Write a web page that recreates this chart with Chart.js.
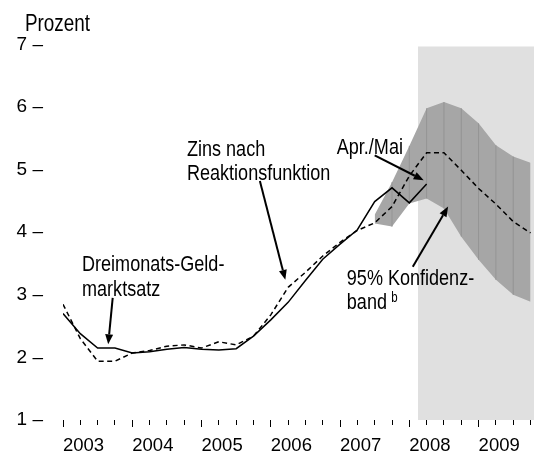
<!DOCTYPE html>
<html>
<head>
<meta charset="utf-8">
<script src="https://cdn.jsdelivr.net/npm/chart.js@4.4.1/dist/chart.umd.min.js"></script>
<style>
body { margin: 0; background: #fff; }
#wrap { width: 534px; height: 458px; position: relative; }
</style>
</head>
<body>
<div id="wrap"><canvas id="chart"></canvas></div>
<script>
// Quartale: Index 0 = 2003 Q1 ... Index 27 = 2009 Q4
var years = ['2003', '2004', '2005', '2006', '2007', '2008', '2009'];

// Dreimonats-Geldmarktsatz, 2003 Q1 bis 2008 Q2 (Apr./Mai)
var geldmarkt = [2.70, 2.38, 2.15, 2.15, 2.07, 2.09, 2.13, 2.16, 2.13, 2.12, 2.14, 2.34,
    2.60, 2.88, 3.23, 3.57, 3.81, 4.04, 4.49, 4.71, 4.47, 4.77];

// Zins nach Reaktionsfunktion, 2003 Q1 bis 2009 Q4
var reaktion = [2.85, 2.30, 1.94, 1.94, 2.07, 2.11, 2.18, 2.20, 2.15, 2.25, 2.20, 2.34,
    2.68, 3.12, 3.36, 3.62, 3.84, 4.03, 4.15, 4.41, 4.90, 5.27, 5.27, 4.99, 4.70, 4.45, 4.17, 3.99];

// 95% Konfidenzband ab Index 18
var bandStart = 18;
var bandUpper = [4.28, 4.80, 5.38, 5.98, 6.08, 5.98, 5.74, 5.39, 5.21, 5.11];
var bandLower = [4.14, 4.09, 4.46, 4.54, 4.38, 3.93, 3.56, 3.24, 3.00, 2.89];

// hellgrau hinterlegter Prognosezeitraum
var prognoseVon = 20.5;
var xMax = 27.2;

var FONT = '"Liberation Sans", Arial, sans-serif';
var NARROW = 0.82; // Arial-Narrow-Optik fuer die Beschriftungen

var notes = [
    { text: 'Dreimonats-Geld-', x: 1.10, y: 3.38 },
    { text: 'marktsatz', x: 1.10, y: 2.98 },
    { text: 'Zins nach', x: 7.16, y: 5.22 },
    { text: 'Reaktionsfunktion', x: 7.16, y: 4.83 },
    { text: 'Apr./Mai', x: 15.81, y: 5.25 },
    { text: '95% Konfidenz-', x: 16.39, y: 3.16 },
    { text: 'band', x: 16.39, y: 2.77 },
    { text: 'b', x: 18.95, y: 2.89, size: 14 }
];
// [x1, y1, x2, y2], Spitze am Ende
var arrows = [
    [2.87, 2.95, 2.61, 2.21],
    [11.37, 4.82, 12.84, 3.24],
    [18.0, 5.23, 20.83, 4.83],
    [20.2, 3.45, 22.24, 4.41]
];

function series(values, start) {
    return values.map(function (v, k) { return { x: start + k, y: v }; });
}

var bandLines = [];
bandUpper.forEach(function (u, k) {
    if (k === 0 || k === bandUpper.length - 1) return;
    var q = bandStart + k;
    bandLines.push({ x: q, y: bandLower[k] }, { x: q, y: u }, { x: q, y: null });
});

function narrowText(ctx, text, x, y, size) {
    ctx.save();
    ctx.translate(x, y);
    ctx.scale(NARROW, 1);
    ctx.font = size + 'px ' + FONT;
    ctx.fillText(text, 0, 0);
    ctx.restore();
}

var annotate = {
    id: 'annotate',
    afterDatasetsDraw: function (chart) {
        var ctx = chart.ctx, xs = chart.scales.x, ys = chart.scales.y;
        ctx.save();
        ctx.fillStyle = '#000';
        ctx.textBaseline = 'alphabetic';
        ctx.textAlign = 'left';
        narrowText(ctx, 'Prozent', 25, 30.5, 23);
        notes.forEach(function (n) {
            narrowText(ctx, n.text, xs.getPixelForValue(n.x), ys.getPixelForValue(n.y), n.size || 22);
        });
        ctx.strokeStyle = '#000';
        ctx.lineWidth = 2;
        arrows.forEach(function (a) {
            var x1 = xs.getPixelForValue(a[0]), y1 = ys.getPixelForValue(a[1]);
            var x2 = xs.getPixelForValue(a[2]), y2 = ys.getPixelForValue(a[3]);
            var ang = Math.atan2(y2 - y1, x2 - x1), len = 10, w = 4;
            var bx = x2 - len * Math.cos(ang), by = y2 - len * Math.sin(ang);
            ctx.beginPath(); ctx.moveTo(x1, y1); ctx.lineTo(bx, by); ctx.stroke();
            ctx.beginPath();
            ctx.moveTo(x2, y2);
            ctx.lineTo(bx + w * Math.sin(ang), by - w * Math.cos(ang));
            ctx.lineTo(bx - w * Math.sin(ang), by + w * Math.cos(ang));
            ctx.closePath();
            ctx.fill();
        });
        ctx.restore();
    }
};

var chart = new Chart(document.getElementById('chart'), {
    type: 'line',
    data: {
        datasets: [{
            label: 'Dreimonats-Geldmarktsatz',
            data: series(geldmarkt, 0),
            borderColor: '#000',
            borderWidth: 1.5,
            fill: false
        }, {
            label: 'Zins nach Reaktionsfunktion',
            data: series(reaktion, 0),
            borderColor: '#000',
            borderWidth: 1.5,
            borderDash: [5, 3.5],
            fill: false
        }, {
            label: 'Bandlinien',
            data: bandLines,
            borderColor: '#949494',
            borderWidth: 1,
            spanGaps: false,
            fill: false
        }, {
            label: '95% Konfidenzband',
            data: series(bandUpper, bandStart),
            borderColor: 'rgba(0,0,0,0)',
            borderWidth: 0,
            backgroundColor: '#a6a6a6',
            fill: '+1'
        }, {
            label: 'untere Grenze',
            data: series(bandLower, bandStart),
            borderColor: 'rgba(0,0,0,0)',
            borderWidth: 0,
            fill: false
        }, {
            label: 'Prognose',
            data: [{ x: prognoseVon, y: 6.97 }, { x: xMax, y: 6.97 }],
            borderColor: 'rgba(0,0,0,0)',
            borderWidth: 0,
            backgroundColor: '#e0e0e0',
            fill: 'start'
        }]
    },
    options: {
        responsive: true,
        maintainAspectRatio: false,
        animation: false,
        elements: { point: { radius: 0, hitRadius: 0 }, line: { tension: 0 } },
        layout: { padding: { left: 0, right: 0, top: 44.5, bottom: 0 } },
        plugins: { legend: { display: false }, tooltip: { enabled: false } },
        scales: {
            x: {
                type: 'linear',
                min: 0,
                max: xMax,
                afterFit: function (s) {
                    s.height = 38;
                    s.paddingLeft = 0;
                    s.paddingRight = 0;
                },
                grid: {
                    drawOnChartArea: false,
                    tickLength: 7,
                    tickColor: '#000',
                    tickBorderDash: function (c) {
                        return c.tick && c.tick.value % 4 === 0 ? [] : [5, 50];
                    }
                },
                border: { display: false },
                ticks: {
                    stepSize: 1,
                    autoSkip: false,
                    includeBounds: false,
                    maxRotation: 0,
                    align: 'start',
                    padding: 8,
                    color: '#000',
                    font: { family: FONT, size: 18.5 },
                    callback: function (v) { return v % 4 === 0 ? years[v / 4] : ''; }
                }
            },
            y: {
                min: 1,
                max: 7,
                afterFit: function (s) { s.width = 63; },
                grid: { display: false, drawTicks: false },
                border: { display: false },
                ticks: {
                    stepSize: 1,
                    padding: 20,
                    color: '#000',
                    font: { family: FONT, size: 19 },
                    callback: function (v) { return v + ' \u2013'; }
                }
            }
        }
    },
    plugins: [annotate]
});
</script>
</body>
</html>
